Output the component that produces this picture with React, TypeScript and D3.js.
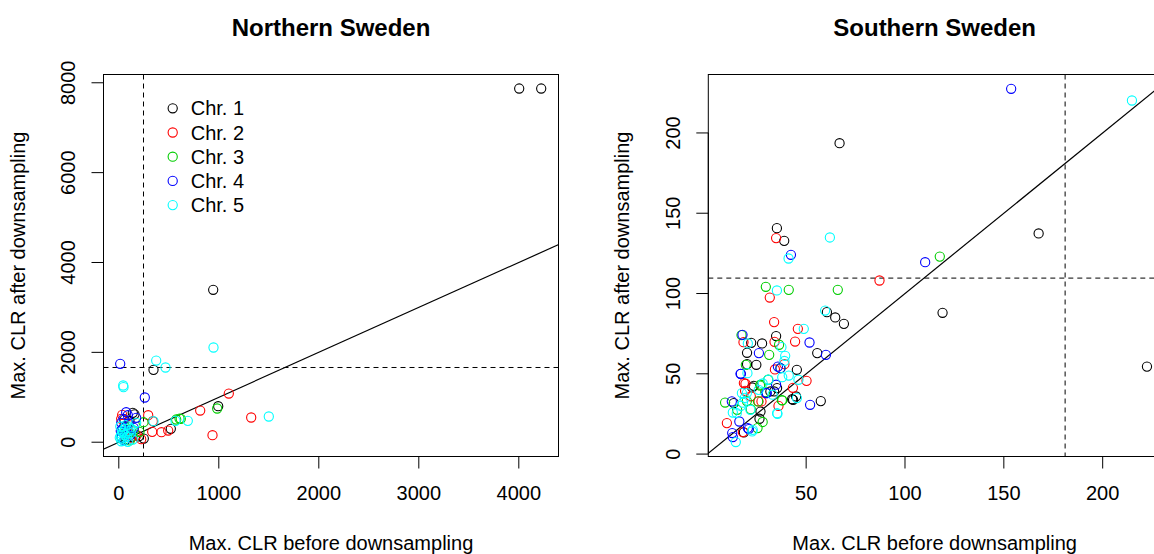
import * as d3 from "d3";

// Northern Sweden: [CLR before, CLR after] per chromosome
const northChr1 = [[4004,7872],[4224,7872],[944,3392],[347,1611],[994,802],[520,298],[250,82],[140,654],[157,620],[107,468],[57,505],[90,250],[130,120],[40,300],[200,130],[70,60]];
const northChr2 = [[1100,1083],[814,705],[1324,550],[937,156],[294,601],[334,231],[427,223],[494,260],[224,67],[34,610],[340,468],[24,520],[60,180],[120,90],[180,160],[100,380]];
const northChr3 = [[984,750],[574,505],[607,527],[207,231],[247,445],[620,520],[30,90],[80,200],[150,260],[110,40],[60,350]];
const northChr4 = [[14,1745],[260,995],[74,668],[47,521],[174,543],[24,431],[90,600],[40,300],[70,200],[110,150],[30,100],[150,320],[55,40],[95,420],[20,250]];
const northChr5 = [[947,2108],[374,1818],[467,1663],[44,1262],[47,1225],[347,468],[567,476],[690,476],[1500,572],[40,209],[174,431],[20,150],[30,80],[60,300],[80,120],[100,250],[15,350],[50,30],[120,200],[140,60],[70,380],[25,20],[90,10],[110,330],[35,250],[60,160],[10,100],[130,290]];

// Southern Sweden
const southChr1 = [[66.9,193.6],[167.6,137.4],[35.2,140.7],[38.9,132.8],[119.0,88.0],[60.5,88.4],[64.7,85.1],[69.1,81.1],[222.4,54.5],[34.8,73.5],[22.2,69.3],[27.7,68.9],[20.1,63.1],[55.6,62.9],[20.1,56.0],[24.8,55.6],[45.3,52.5],[22.7,41.5],[33.8,39.0],[43.4,33.8],[44.9,35.9],[57.4,33.0],[13.4,31.8],[26.4,22.0],[18.5,13.5],[26.9,26.5],[31.9,39.0],[35.3,41.1],[42.9,34.2],[23.5,42.5]];
const southChr2 = [[34.8,134.5],[87.1,108.1],[31.6,97.5],[33.8,82.2],[45.8,78.0],[18.3,69.7],[34.0,69.9],[44.4,70.1],[34.2,52.7],[39.0,56.0],[50.2,45.6],[18.5,44.2],[43.3,41.3],[19.1,39.4],[25.9,32.8],[9.9,19.3],[18.0,13.7],[19.3,43.8],[27.4,32.8],[36,30],[22,36]];
const southChr3 = [[117.6,123.0],[29.6,104.2],[41.2,102.3],[66.0,102.3],[17.3,74.1],[36.3,68.1],[31.3,61.8],[19.5,55.6],[26.7,42.7],[29.3,38.6],[37.7,33.6],[9.0,32.1],[20.0,33.0],[25.4,16.2],[26.9,43.2],[25.7,32.8],[15.1,27.6],[37.9,33.4],[22,28],[28,20],[30.8,46.3],[37.0,53.5]];
const southChr4 = [[153.7,227.5],[42.3,124.1],[110.2,119.5],[17.8,74.3],[51.7,69.5],[26.1,62.9],[60.0,61.8],[17.0,50.0],[35.7,54.5],[37.0,53.5],[34.8,43.2],[30.1,38.0],[52.0,30.7],[12.4,32.8],[20.5,16.2],[12.9,10.6],[16.2,20.3],[12.6,13.1],[21,15.6],[29.8,38],[16.8,50]];
const southChr5 = [[214.8,220.2],[62.0,134.9],[41.1,121.8],[35.2,101.9],[59.6,89.4],[48.8,78.0],[20.5,68.9],[37.5,66.6],[39.4,61.2],[20.3,50.4],[41.2,48.9],[37.9,47.9],[46.1,46.3],[30.9,46.3],[17.5,38.0],[45.3,34.9],[35.5,25.1],[23.0,15.1],[14.4,7.5],[14.9,25.5],[22.7,14.1],[12.9,25.9],[21.8,27.6],[18,32],[19,35],[17,30],[20,38],[35.3,25.5],[39,58],[26,40],[33,37],[28,44]];

const chrLabels = ["Chr. 1", "Chr. 2", "Chr. 3", "Chr. 4", "Chr. 5"];
const chrColors = ["#000000", "#FF0000", "#00CD00", "#0000FF", "#00FFFF"];

const northXTicks = [0, 1000, 2000, 3000, 4000];
const northYTicks = [0, 2000, 4000, 6000, 8000];
const southXTicks = [50, 100, 150, 200];
const southYTicks = [0, 50, 100, 150, 200];

const northCut = { x: 247, y: 1663 };
const southCut = { x: 181, y: 109.6 };

const font = "'Liberation Sans', Arial, Helvetica, sans-serif";

type Pt = number[];

function Panel({ id, title, left, right, xDomain, yDomain, xTicks, yTicks, series, cut, legend }: {
  id: string; title: string; left: number; right: number;
  xDomain: number[]; yDomain: number[]; xTicks: number[]; yTicks: number[];
  series: Pt[][]; cut: { x: number; y: number }; legend: boolean;
}) {
  const top = 74.5, bottom = 456.5;
  const x = d3.scaleLinear().domain(xDomain).range([left, right]);
  const y = d3.scaleLinear().domain(yDomain).range([bottom, top]);
  const cx = (left + Math.min(right, 1161)) / 2;
  const cy = (top + bottom) / 2;
  const diag = d3.line<number>().x((v) => x(v)).y((v) => y(v));
  const lo = Math.min(xDomain[0], yDomain[0]);
  const hi = Math.max(xDomain[1], yDomain[1]);
  return (
    <g>
      <defs>
        <clipPath id={id}>
          <rect x={left} y={top} width={right - left} height={bottom - top} />
        </clipPath>
      </defs>
      <text x={cx} y={27} textAnchor="middle" dominantBaseline="central" fontSize={24} fontWeight="bold">{title}</text>
      <g clipPath={`url(#${id})`}>
        <path d={diag([lo, hi]) || ""} stroke="#000" fill="none" strokeWidth={1.2} />
        <line x1={x(cut.x)} x2={x(cut.x)} y1={top} y2={bottom} stroke="#000" strokeDasharray="5,4" />
        <line x1={left} x2={right} y1={y(cut.y)} y2={y(cut.y)} stroke="#000" strokeDasharray="5,4" />
        {series.map((pts, i) =>
          pts.map((p, j) => (
            <circle key={`${i}-${j}`} cx={x(p[0])} cy={y(p[1])} r={4.6} fill="none" stroke={chrColors[i]} strokeWidth={1.1} />
          ))
        )}
      </g>
      <rect x={left} y={top} width={right - left} height={bottom - top} fill="none" stroke="#000" strokeWidth={1} />
      {/* x axis */}
      <line x1={x(xTicks[0])} x2={x(xTicks[xTicks.length - 1])} y1={bottom} y2={bottom} stroke="#000" />
      {xTicks.map((t) => (
        <g key={t}>
          <line x1={x(t)} x2={x(t)} y1={bottom} y2={bottom + 12} stroke="#000" />
          <text x={x(t)} y={493} textAnchor="middle" dominantBaseline="central" fontSize={20}>{t}</text>
        </g>
      ))}
      {/* y axis */}
      <line x1={left} x2={left} y1={y(yTicks[0])} y2={y(yTicks[yTicks.length - 1])} stroke="#000" />
      {yTicks.map((t) => (
        <g key={t}>
          <line x1={left - 12} x2={left} y1={y(t)} y2={y(t)} stroke="#000" />
          <text transform={`translate(${left - 35.5},${y(t)}) rotate(-90)`} textAnchor="middle" dominantBaseline="central" fontSize={20}>{t}</text>
        </g>
      ))}
      <text x={cx} y={543} textAnchor="middle" dominantBaseline="central" fontSize={20}>Max. CLR before downsampling</text>
      <text transform={`translate(${left - 86},${cy}) rotate(-90)`} textAnchor="middle" dominantBaseline="central" fontSize={20}>Max. CLR after downsampling</text>
      {legend &&
        chrLabels.map((lab, i) => (
          <g key={lab} transform={`translate(0,${108.3 + i * 24.2})`}>
            <circle cx={172.7} cy={0} r={4.6} fill="none" stroke={chrColors[i]} strokeWidth={1.1} />
            <text x={190.7} y={0} dominantBaseline="central" fontSize={20}>{lab}</text>
          </g>
        ))}
    </g>
  );
}

export default function App() {
  return (
    <svg width={1154} height={554} style={{ position: "absolute", left: 0, top: 0, background: "#fff" }} fontFamily={font}>
      <rect width={1154} height={554} fill="#fff" />
      <Panel id="clipN" title="Northern Sweden" left={103.5} right={558.5}
        xDomain={[-153, 4397]} yDomain={[-318, 8184]} xTicks={northXTicks} yTicks={northYTicks}
        series={[northChr1, northChr2, northChr3, northChr4, northChr5]} cut={northCut} legend={true} />
      <Panel id="clipS" title="Southern Sweden" left={708.3} right={1161}
        xDomain={[0.5, 229.5]} yDomain={[-1.5, 236.4]} xTicks={southXTicks} yTicks={southYTicks}
        series={[southChr1, southChr2, southChr3, southChr4, southChr5]} cut={southCut} legend={false} />
    </svg>
  );
}
